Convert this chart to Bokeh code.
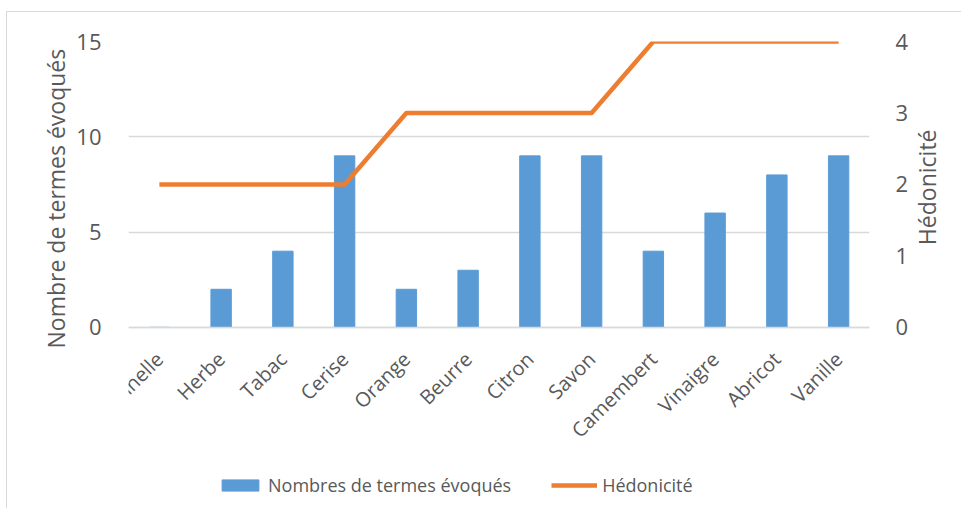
import math
from bokeh.plotting import figure
from bokeh.models import Range1d, LinearAxis, Legend, LegendItem, FixedTicker, Title
from bokeh.embed import file_html
from bokeh.resources import INLINE

categories = ["Cannelle", "Herbe", "Tabac", "Cerise", "Orange", "Beurre",
              "Citron", "Savon", "Camembert", "Vinaigre", "Abricot", "Vanille"]
termes = [0, 2, 4, 9, 2, 3, 9, 9, 4, 6, 8, 9]
hedonicite = [2, 2, 2, 2, 3, 3, 3, 3, 4, 4, 4, 4]
left_ticks = [0, 5, 10, 15]
right_ticks = [0, 1, 2, 3, 4]

FONT = "Open Sans"
TXT = "#595959"
GRID = "#D9D9D9"

# frame extended below zero so that the legend can sit inside it
Y_LOW = -9.5
p = figure(x_range=categories, y_range=Range1d(Y_LOW, 15),
           frame_width=741, frame_height=467, output_backend="svg", toolbar_location=None,
           min_border_left=121, min_border_right=0, min_border_top=29, min_border_bottom=0,
           styles={"margin-top": "11px", "margin-left": "6px",
                   "border-left": "1px solid #D9D9D9", "border-top": "1px solid #D9D9D9"})
p.outline_line_color = None
p.extra_y_ranges = {"hed": Range1d(Y_LOW * 4 / 15, 4)}

bars = p.vbar(x=categories, top=termes, width=0.33, color="#5B9BD5")
line = p.line(x=categories, y=hedonicite, y_range_name="hed",
              line_color="#ED7D31", line_width=4.5, line_join="round")

p.xgrid.grid_line_color = None
p.ygrid.grid_line_color = GRID
p.ygrid.grid_line_width = 1.5
p.ygrid.ticker = FixedTicker(ticks=left_ticks)

# left axis
ax = p.yaxis[0]
ax.ticker = FixedTicker(ticks=left_ticks)
ax.axis_line_color = None
ax.major_tick_line_color = None
ax.minor_tick_line_color = None
ax.major_label_standoff = 21
ax.major_label_text_font = FONT
ax.major_label_text_font_size = "22px"
ax.major_label_text_color = TXT

ltitle = Title(text="Nombre de termes évoqués", align="left", offset=160,
               text_font=FONT, text_font_size="23px", text_font_style="normal",
               text_color=TXT, standoff=4)
p.add_layout(ltitle, "left")

# right axis
rax = LinearAxis(y_range_name="hed", ticker=FixedTicker(ticks=right_ticks))
rax.axis_line_color = None
rax.major_tick_line_color = None
rax.minor_tick_line_color = None
rax.major_label_standoff = 20
rax.major_label_text_font = FONT
rax.major_label_text_font_size = "22px"
rax.major_label_text_color = TXT
rax.axis_label = "\u00a0" * 5 + "Hédonicité"
rax.axis_label_text_font = FONT
rax.axis_label_text_font_size = "23px"
rax.axis_label_text_font_style = "normal"
rax.axis_label_text_color = TXT
rax.axis_label_standoff = 16
rax.axis_label_orientation = math.pi / 2
rax.axis_label_align = "center"
p.add_layout(rax, "right")

# x axis fixed at zero
xa = p.xaxis[0]
xa.fixed_location = 0
xa.axis_line_color = GRID
xa.axis_line_width = 1.5
xa.major_tick_line_color = None
xa.minor_tick_line_color = None
xa.major_label_orientation = math.pi / 4
xa.major_label_standoff = 22
xa.major_label_text_font = FONT
xa.major_label_text_font_size = "20px"
xa.major_label_text_color = TXT

legend = Legend(items=[LegendItem(label="Nombres de termes évoqués", renderers=[bars]),
                       LegendItem(label="Hédonicité", renderers=[line])],
                orientation="horizontal", location=(89, 11),
                glyph_width=46, glyph_height=14, label_standoff=5, spacing=40,
                padding=0, margin=0, border_line_color=None, background_fill_alpha=0,
                label_text_font=FONT, label_text_font_size="18px", label_text_color=TXT)
p.add_layout(legend, "center")

open("out.html", "w").write(file_html(p, INLINE))
